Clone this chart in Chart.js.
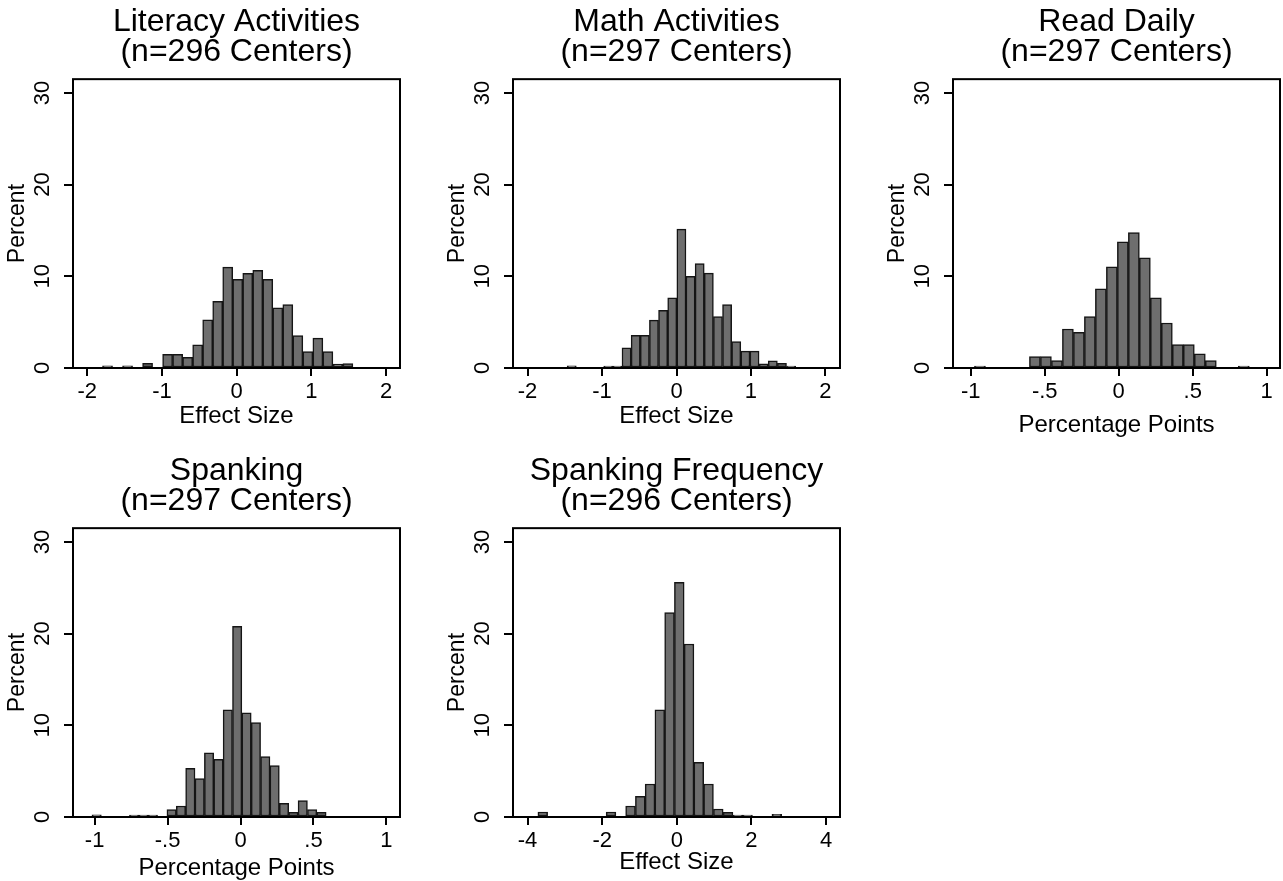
<!DOCTYPE html>
<html>
<head>
<meta charset="utf-8">
<title>Histograms of center effects</title>
<script src="https://cdn.jsdelivr.net/npm/chart.js@4.4.1/dist/chart.umd.min.js"></script>
<style>
  html, body { margin: 0; padding: 0; background: #fff; }
  body { position: relative; width: 1283px; height: 881px; overflow: hidden; }
  canvas { position: absolute; }
</style>
</head>
<body>
<script>
// ---- data (percent of centers per bin, 25 bins each) ----
const literacyPct = [0.25, 0, 0.25, 0, 0.5, 0, 1.5, 1.5, 1.17, 2.52, 5.26, 7.26, 11.0, 9.67, 10.33, 10.66, 9.67, 6.57, 6.93, 3.54, 1.79, 3.25, 1.79, 0.44, 0.47];
const literacyBinStart = -1.795;
const literacyBinWidth = 0.134;

const mathPct = [0.25, 0, 0, 0, 0.2, 0.2, 2.2, 3.57, 3.57, 5.22, 6.29, 7.65, 15.15, 10.0, 11.4, 10.35, 5.62, 6.92, 2.88, 1.84, 1.84, 0.46, 0.79, 0.5, 0.2];
const mathBinStart = -1.468;
const mathBinWidth = 0.1227;

const readPct = [0.2, 0, 0, 0, 0, 1.25, 1.25, 0.8, 4.25, 3.88, 5.6, 8.64, 11.03, 13.77, 14.76, 12.01, 7.66, 4.91, 2.56, 2.56, 1.54, 0.8, 0, 0, 0.2];
const readBinStart = -0.975;
const readBinWidth = 0.0743;

const spankPct = [0.25, 0, 0, 0, 0.2, 0.2, 0.2, 0, 0.8, 1.2, 5.3, 4.2, 7.0, 6.3, 11.7, 20.8, 11.35, 10.3, 6.6, 5.6, 1.5, 0.5, 1.8, 0.8, 0.5];
const spankBinStart = -1.018;
const spankBinWidth = 0.0642;

const spankFreqPct = [0.55, 0, 0, 0, 0, 0, 0, 0.55, 0, 1.2, 2.26, 3.6, 11.69, 22.3, 25.6, 18.87, 5.97, 3.6, 0.87, 0.51, 0.2, 0.2, 0, 0, 0.3];
const spankFreqBinStart = -3.723;
const spankFreqBinWidth = 0.2614;

// ---- tick labels ----
const yTickVals = [0, 10, 20, 30];
const yTickLabels = ['0', '10', '20', '30'];
const effectTickVals = [-2, -1, 0, 1, 2];
const effectTickLabels = ['-2', '-1', '0', '1', '2'];
const pointTickVals = [-1, -0.5, 0, 0.5, 1];
const pointTickLabels = ['-1', '-.5', '0', '.5', '1'];
const freqTickVals = [-4, -2, 0, 2, 4];
const freqTickLabels = ['-4', '-2', '0', '2', '4'];

// ---- styling ----
const FONT = 'Liberation Sans, Arial, Helvetica, sans-serif';
const BAR_FILL = '#6e6e6e';
const BAR_EDGE = '#151515';
const TICK_SIZE = 22;
const AXIS_TITLE_SIZE = 24;
Chart.defaults.font.family = FONT;
Chart.defaults.color = '#000';

const panels = [
  { left: 0,   top: 0,   title: ['Literacy Activities', '(n=296 Centers)'], pct: literacyPct, start: literacyBinStart, width: literacyBinWidth,
    xMin: -2.19, xMax: 2.185, xTicks: effectTickVals, xLabels: effectTickLabels, xTitle: 'Effect Size', xTitleOff: 48 },
  { left: 440, top: 0,   title: ['Math Activities', '(n=297 Centers)'], pct: mathPct, start: mathBinStart, width: mathBinWidth,
    xMin: -2.195, xMax: 2.195, xTicks: effectTickVals, xLabels: effectTickLabels, xTitle: 'Effect Size', xTitleOff: 48 },
  { left: 880, top: 0,   title: ['Read Daily', '(n=297 Centers)'], pct: readPct, start: readBinStart, width: readBinWidth,
    xMin: -1.12, xMax: 1.09, xTicks: pointTickVals, xLabels: pointTickLabels, xTitle: 'Percentage Points', xTitleOff: 57 },
  { left: 0,   top: 449, title: ['Spanking', '(n=297 Centers)'], pct: spankPct, start: spankBinStart, width: spankBinWidth,
    xMin: -1.148, xMax: 1.093, xTicks: pointTickVals, xLabels: pointTickLabels, xTitle: 'Percentage Points', xTitleOff: 51 },
  { left: 440, top: 449, title: ['Spanking Frequency', '(n=296 Centers)'], pct: spankFreqPct, start: spankFreqBinStart, width: spankFreqBinWidth,
    xMin: -4.39, xMax: 4.375, xTicks: freqTickVals, xLabels: freqTickLabels, xTitle: 'Effect Size', xTitleOff: 45 }
];

// plot box + rotated y tick labels (Stata style)
const boxAndLabels = {
  id: 'boxAndLabels',
  afterDraw(chart) {
    const ctx = chart.ctx;
    const a = chart.chartArea;
    const y = chart.scales.y;
    ctx.save();
    ctx.strokeStyle = '#000';
    ctx.lineWidth = 2;
    ctx.strokeRect(a.left, a.top, a.right - a.left, a.bottom - a.top);
    ctx.fillStyle = '#000';
    ctx.font = TICK_SIZE + 'px ' + FONT;
    ctx.textAlign = 'center';
    ctx.textBaseline = 'middle';
    yTickVals.forEach((v, i) => {
      ctx.save();
      ctx.translate(a.left - 30, y.getPixelForValue(v));
      ctx.rotate(-Math.PI / 2);
      ctx.fillText(yTickLabels[i], 0, 0);
      ctx.restore();
    });
    ctx.restore();
  }
};

function makePanel(p) {
  const canvas = document.createElement('canvas');
  canvas.width = 410;
  canvas.height = 449;
  canvas.style.left = p.left + 'px';
  canvas.style.top = p.top + 'px';
  document.body.appendChild(canvas);

  const bars = p.pct.map((v, i) => ({ x: p.start + (i + 0.5) * p.width, y: v }));

  new Chart(canvas, {
    type: 'bar',
    data: {
      datasets: [{
        data: bars,
        backgroundColor: BAR_FILL,
        borderColor: BAR_EDGE,
        borderWidth: 1.5,
        borderSkipped: false,
        barPercentage: 1,
        categoryPercentage: 1,
        grouped: false
      }]
    },
    options: {
      responsive: false,
      animation: false,
      layout: { padding: { left: 0, right: 10, top: 0, bottom: 9 } },
      plugins: {
        legend: { display: false },
        tooltip: { enabled: false },
        title: {
          display: true,
          text: p.title,
          fullSize: false,
          color: '#000',
          font: { size: 32, weight: 'normal', lineHeight: 0.94 },
          padding: { top: 7, bottom: 12 }
        }
      },
      scales: {
        x: {
          type: 'linear',
          min: p.xMin,
          max: p.xMax,
          offset: false,
          afterBuildTicks: s => { s.ticks = p.xTicks.map(v => ({ value: v })); },
          afterFit: s => { s.height = 72; },
          border: { display: false },
          grid: { drawOnChartArea: false, drawTicks: true, tickLength: 8, color: '#000', lineWidth: 2, offset: false },
          ticks: {
            autoSkip: false, maxRotation: 0, minRotation: 0, padding: 3,
            color: '#000', font: { size: TICK_SIZE },
            callback: (v, i) => p.xLabels[i]
          },
          title: {
            display: true, text: p.xTitle, color: '#000',
            font: { size: AXIS_TITLE_SIZE, lineHeight: 1.2 },
            padding: { top: 0, bottom: 72 - p.xTitleOff - AXIS_TITLE_SIZE * 0.6 }
          }
        },
        y: {
          min: 0,
          max: 31.5,
          afterBuildTicks: s => { s.ticks = yTickVals.map(v => ({ value: v })); },
          afterFit: s => { s.width = 73; },
          border: { display: false },
          grid: { drawOnChartArea: false, drawTicks: true, tickLength: 9, color: '#000', lineWidth: 2 },
          ticks: { display: false },
          title: {
            display: true, text: 'Percent', color: '#000',
            font: { size: 23, lineHeight: 1.2 },
            padding: { top: 4.2, bottom: 0 }
          }
        }
      }
    },
    plugins: [boxAndLabels]
  });
}

panels.forEach(makePanel);
</script>
</body>
</html>
